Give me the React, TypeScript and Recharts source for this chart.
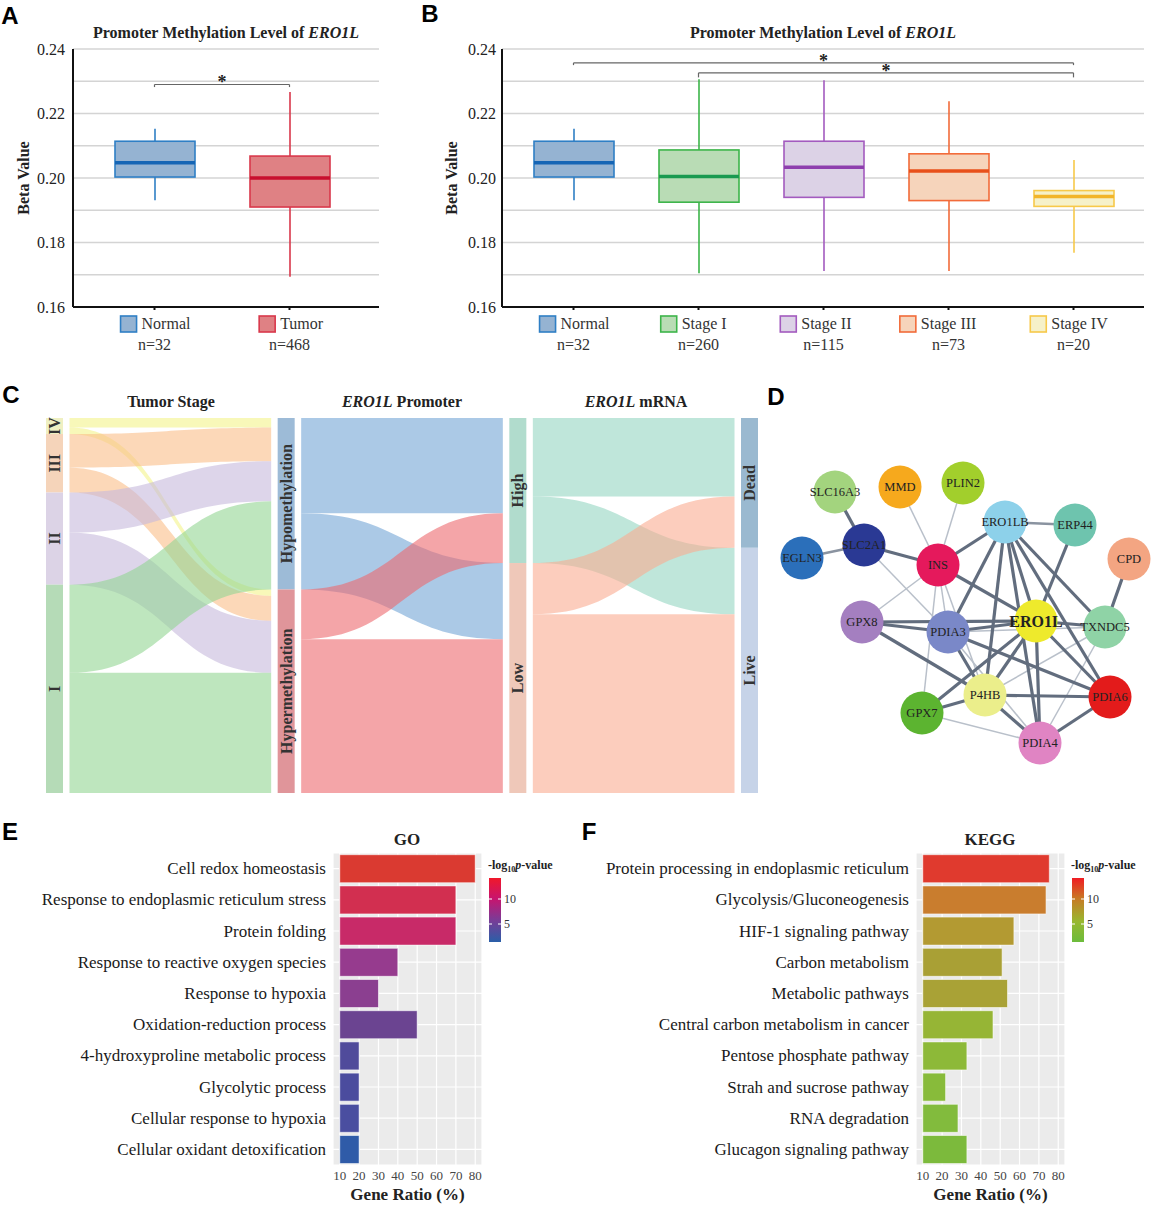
import React from "react";
import {
  BarChart,
  Bar,
  XAxis,
  YAxis,
  CartesianGrid,
  ReferenceLine,
  Cell,
  Legend,
  Sankey,
  ScatterChart,
  Scatter,
} from "recharts";

const SERIF = '"Liberation Serif", "Times New Roman", serif';
const SANS = '"Liberation Sans", Arial, sans-serif';

// ---------- A: normal vs tumor ----------
const tumorGroups = ["Normal", "Tumor"];
const tumorCounts = [32, 468];
const tumorMin = [0.1931, 0.1694];
const tumorQ1 = [0.2003, 0.191];
const tumorMedian = [0.2047, 0.2];
const tumorQ3 = [0.2114, 0.2068];
const tumorMax = [0.2153, 0.2267];

// ---------- B: by stage ----------
const stageGroups = ["Normal", "Stage I", "Stage II", "Stage III", "Stage IV"];
const stageCounts = [32, 260, 115, 73, 20];
const stageMin = [0.1931, 0.1705, 0.1712, 0.1712, 0.1768];
const stageQ1 = [0.2003, 0.1925, 0.194, 0.193, 0.1912];
const stageMedian = [0.2047, 0.2005, 0.2033, 0.2022, 0.1943];
const stageQ3 = [0.2114, 0.2087, 0.2114, 0.2075, 0.1961];
const stageMax = [0.2153, 0.2306, 0.2303, 0.2238, 0.2056];

const betaTicks = [0.16, 0.17, 0.18, 0.19, 0.2, 0.21, 0.22, 0.23, 0.24];
const betaLabels = [0.16, 0.18, 0.2, 0.22, 0.24];

const tumorBrackets = [{ from: "Normal", to: "Tumor", y: 0.229, foot: 0.2282 }];
const stageBrackets = [
  { from: "Normal", to: "Stage IV", y: 0.2357, foot: 0.235 },
  { from: "Stage I", to: "Stage IV", y: 0.2326, foot: 0.2312 },
];

// ---------- C: alluvial ----------
const stageLevels = ["IV", "III", "II", "I"];
const promoterLevels = ["Hypomethylation", "Hypermethylation"];
const mrnaLevels = ["High", "Low"];
const statusLevels = ["Dead", "Live"];
const stageToPromoter = [
  [12, 8],
  [42, 31],
  [50, 65],
  [110, 150],
];
const promoterToMrna = [
  [119, 95],
  [62, 192],
];
const mrnaToStatus = [
  [98, 83],
  [64, 223],
];

// ---------- D: PPI network ----------
const genes = ["SLC16A3", "MMD", "PLIN2", "ERO1LB", "ERP44", "CPD", "EGLN3", "SLC2A1", "INS", "GPX8", "PDIA3", "ERO1L", "TXNDC5", "P4HB", "PDIA6", "GPX7", "PDIA4"];
const geneX = [65, 130, 193, 235, 305, 359, 32, 94, 168, 92, 178, 266, 335, 215, 340, 152, 270];
const geneY = [52, 47, 43, 82, 85, 119, 118, 105, 125, 182, 192, 181, 187, 255, 257, 273, 303];
const strongLinks = [
  ["SLC16A3", "SLC2A1"], ["SLC2A1", "INS"], ["INS", "ERO1LB"], ["INS", "ERO1L"],
  ["ERO1LB", "PDIA3"], ["ERO1LB", "ERO1L"], ["ERO1LB", "TXNDC5"], ["ERO1LB", "PDIA6"],
  ["ERO1LB", "PDIA4"], ["ERO1LB", "P4HB"], ["ERP44", "ERO1L"], ["CPD", "TXNDC5"],
  ["GPX8", "PDIA3"], ["GPX8", "ERO1L"], ["GPX8", "P4HB"], ["PDIA3", "ERO1L"],
  ["PDIA3", "PDIA6"], ["PDIA3", "P4HB"], ["ERO1L", "TXNDC5"], ["ERO1L", "P4HB"],
  ["ERO1L", "GPX7"], ["ERO1L", "PDIA4"], ["ERO1L", "PDIA6"], ["P4HB", "PDIA6"],
  ["P4HB", "GPX7"], ["P4HB", "PDIA4"], ["PDIA6", "PDIA4"],
];
const mediumLinks = [["ERO1LB", "ERP44"], ["EGLN3", "SLC2A1"]];
const weakLinks = [
  ["SLC2A1", "PDIA3"], ["MMD", "INS"], ["PLIN2", "INS"], ["INS", "GPX8"], ["INS", "PDIA3"],
  ["INS", "GPX7"], ["INS", "P4HB"], ["PDIA3", "TXNDC5"], ["PDIA3", "PDIA4"],
  ["TXNDC5", "P4HB"], ["TXNDC5", "PDIA4"], ["GPX7", "PDIA4"],
];

// ---------- E / F: enrichment ----------
const goTerms = [
  "Cell redox homeostasis",
  "Response to endoplasmic reticulum stress",
  "Protein folding",
  "Response to reactive oxygen species",
  "Response to hypoxia",
  "Oxidation-reduction process",
  "4-hydroxyproline metabolic process",
  "Glycolytic process",
  "Cellular response to hypoxia",
  "Cellular oxidant detoxification",
];
const goRatio = [80, 70, 70, 40, 30, 50, 20, 20, 20, 20];
const keggTerms = [
  "Protein processing in endoplasmic reticulum",
  "Glycolysis/Gluconeogenesis",
  "HIF-1 signaling pathway",
  "Carbon metabolism",
  "Metabolic pathways",
  "Central carbon metabolism in cancer",
  "Pentose phosphate pathway",
  "Strah and sucrose pathway",
  "RNA degradation",
  "Glucagon signaling pathway",
];
const keggRatio = [75.4, 73.7, 57.1, 51.0, 53.8, 46.3, 32.8, 21.8, 28.2, 32.8];
const ratioTicks = [10, 20, 30, 40, 50, 60, 70, 80];
const ratioBase = 10;
const pvalTicks = [5, 10];

// ---------- styles ----------
const groupStyle: Record<string, { fill: string; stroke: string; mid: string }> = {
  Normal: { fill: "#95b3d2", stroke: "#2f7fc5", mid: "#1565b5" },
  Tumor: { fill: "#df8184", stroke: "#d9384b", mid: "#c8102e" },
  "Stage I": { fill: "#b9dcb5", stroke: "#3db54a", mid: "#1a9a50" },
  "Stage II": { fill: "#dcd2e6", stroke: "#a35bbf", mid: "#8e3fae" },
  "Stage III": { fill: "#f6d4bb", stroke: "#f26b3a", mid: "#e8501a" },
  "Stage IV": { fill: "#f6f1c9", stroke: "#f7c94a", mid: "#f2b52a" },
};
const nodeColor: Record<string, string> = {
  IV: "#eff0c2", III: "#f5d4ba", II: "#dcd3e6", I: "#b5dbb7",
  Hypomethylation: "#9dbbd7", Hypermethylation: "#e0959a",
  High: "#b1dccd", Low: "#efc8b9", Dead: "#9ab9d0", Live: "#c6d3e8",
};
const flowColor: Record<string, string> = {
  IV: "#f3f38a", III: "#fabe89", II: "#c6b9dc", I: "#93d593",
  Hypomethylation: "#73a5d5", Hypermethylation: "#ed696e",
  High: "#94d5c1", Low: "#faac91",
};
const geneColor = ["#a3d47e", "#f6a91d", "#a2cf2c", "#8dd1ea", "#6ec4ae", "#f3a582", "#2b6fba", "#2a3994", "#e5195c", "#a47fc0", "#7a88c8", "#eeea2c", "#8fd3a6", "#ebee8b", "#e31b1b", "#5cb430", "#e084c3"];
const goColors = ["#da3a31", "#d22f50", "#c82a68", "#963b8e", "#8b3f90", "#6b4491", "#504b9b", "#4b4c9e", "#4a4ea0", "#2f5ba8"];
const keggColors = ["#e03a2e", "#c97d2e", "#b39a32", "#a9a035", "#a9a236", "#96b535", "#8db938", "#88bb3a", "#82bb3d", "#7cba3c"];
const goStops: [string, string][] = [["0%", "#f0182a"], ["32%", "#c8146e"], ["64%", "#7e3a95"], ["100%", "#2a5fa8"]];
const keggStops: [string, string][] = [["0%", "#f01c24"], ["32%", "#c87a24"], ["68%", "#98b830"], ["100%", "#6cbc3c"]];

const toRows = (names: string[], n: number[], lo: number[], q1: number[], med: number[], q3: number[], hi: number[]) =>
  names.map((name, i) => ({ name, n: n[i], lo: lo[i], q1: q1[i], med: med[i], q3: q3[i], hi: hi[i] }));

const tumorRows = toRows(tumorGroups, tumorCounts, tumorMin, tumorQ1, tumorMedian, tumorQ3, tumorMax);
const stageRows = toRows(stageGroups, stageCounts, stageMin, stageQ1, stageMedian, stageQ3, stageMax);

const betaFormat = (v: number) => (betaLabels.some((l) => Math.abs(l - v) < 1e-9) ? v.toFixed(2) : "");

const approxWidth = (s: string, size: number) =>
  s.split("").reduce((w, c) => w + (c === " " ? 0.25 : /[A-Z]/.test(c) ? 0.68 : /[0-9=]/.test(c) ? 0.5 : 0.45), 0) * size;

// serif tick renderers
const BetaTick = ({ x, y, payload }: any) => (
  <text x={x} y={y} textAnchor="end" dominantBaseline="central" fontFamily={SERIF} fontSize={16} fill="#222">
    {betaFormat(payload.value)}
  </text>
);
const TermTick = ({ x, y, payload }: any) => (
  <text x={x} y={y} textAnchor="end" dominantBaseline="central" fontFamily={SERIF} fontSize={17} fill="#1a1a1a">
    {payload.value}
  </text>
);
const RatioTick = ({ x, y, payload }: any) => (
  <text x={x} y={y} dy="0.8em" textAnchor="middle" fontFamily={SERIF} fontSize={13} fill="#444">
    {payload.value}
  </text>
);

function BoxShape(props: any) {
  const { x, y, width, height, payload } = props;
  const st = groupStyle[payload.name];
  const top = Math.min(y, y + height);
  const bot = Math.max(y, y + height);
  const py = (v: number) => bot - ((v - payload.lo) / (payload.hi - payload.lo)) * (bot - top);
  const cx = x + width / 2;
  return (
    <g>
      <line x1={cx} x2={cx} y1={py(payload.hi)} y2={py(payload.lo)} stroke={st.stroke} strokeWidth={1.6} />
      <rect x={x} y={py(payload.q3)} width={width} height={py(payload.q1) - py(payload.q3)} fill={st.fill} stroke={st.stroke} strokeWidth={1.6} />
      <line x1={x} x2={x + width} y1={py(payload.med)} y2={py(payload.med)} stroke={st.mid} strokeWidth={3.5} />
    </g>
  );
}

function GroupTick(props: any) {
  const { x, y, payload, rows } = props;
  const row = rows.find((r: any) => r.name === payload.value);
  if (!row) return <g />;
  const st = groupStyle[row.name];
  const sw = 16;
  const gap = 5;
  const tw = approxWidth(row.name, 16);
  const left = x - (sw + gap + tw) / 2;
  return (
    <g>
      <rect x={left} y={y + 1} width={sw} height={sw} fill={st.fill} stroke={st.stroke} strokeWidth={1.6} />
      <text x={left + sw + gap} y={y + 14} fontFamily={SERIF} fontSize={16} fill="#333">
        {row.name}
      </text>
      <text x={x} y={y + 35} textAnchor="middle" fontFamily={SERIF} fontSize={16} fill="#333">
        n={row.n}
      </text>
    </g>
  );
}

function BoxPanel({ rows, width, axisWidth, rightGap, pad, brackets, tickGap }: any) {
  const frame = { stroke: "#111", strokeWidth: 2 };
  return (
    <BarChart width={width} height={360} data={rows} margin={{ top: 49, right: rightGap, bottom: 0, left: 0 }}>
      <CartesianGrid vertical={false} stroke="#d4d4d4" strokeWidth={1.5} />
      <XAxis
        dataKey="name"
        interval={0}
        padding={pad}
        height={53}
        axisLine={frame}
        tickLine={{ stroke: "#111", strokeWidth: 2 }}
        tickSize={3}
        tickMargin={5}
        tick={(p: any) => <GroupTick {...p} rows={rows} />}
      />
      <XAxis xAxisId="top" orientation="top" dataKey="name" padding={pad} height={0} tick={false} tickLine={false} axisLine={frame} />
      <YAxis
        type="number"
        domain={[0.16, 0.24]}
        ticks={betaTicks}
        interval={0}
        allowDataOverflow
        width={axisWidth}
        axisLine={frame}
        tickLine={false}
        tickSize={0}
        tickMargin={tickGap}
        tick={BetaTick}
      />
      <YAxis yAxisId="frame" orientation="right" type="number" domain={[0.16, 0.24]} width={0} tick={false} tickLine={false} axisLine={frame} />
      <Bar dataKey={(d: any) => [d.lo, d.hi]} barSize={80} isAnimationActive={false} shape={(p: any) => <BoxShape {...p} />} />
      {brackets.map((b: any, i: number) => [
        <ReferenceLine
          key={`b${i}`}
          segment={[{ x: b.from, y: b.y }, { x: b.to, y: b.y }]}
          stroke="#666"
          strokeWidth={1.2}
          ifOverflow="visible"
          label={{ value: "*", position: "top", offset: -4, fill: "#222", fontSize: 18, fontWeight: "bold", fontFamily: SERIF }}
        />,
        <ReferenceLine key={`l${i}`} segment={[{ x: b.from, y: b.y }, { x: b.from, y: b.foot }]} stroke="#666" strokeWidth={1.2} ifOverflow="visible" />,
        <ReferenceLine key={`r${i}`} segment={[{ x: b.to, y: b.y }, { x: b.to, y: b.foot }]} stroke="#666" strokeWidth={1.2} ifOverflow="visible" />,
      ])}
    </BarChart>
  );
}

// ---------- alluvial ----------
const allLevels = [...stageLevels, ...promoterLevels, ...mrnaLevels, ...statusLevels];
const stepLinks = (m: number[][], a: number, b: number) =>
  m.flatMap((row, i) => row.map((value, j) => ({ source: a + i, target: b + j, value })));
const alluvialData = {
  nodes: allLevels.map((name) => ({ name })),
  links: [
    ...stepLinks(stageToPromoter, 0, stageLevels.length),
    ...stepLinks(promoterToMrna, stageLevels.length, stageLevels.length + promoterLevels.length),
    ...stepLinks(mrnaToStatus, stageLevels.length + promoterLevels.length, stageLevels.length + promoterLevels.length + mrnaLevels.length),
  ],
};
const FLOW_GAP = 6.5;

function FlowBand(props: any) {
  const { sourceX, targetX, sourceY, targetY, linkWidth, payload } = props;
  const x0 = sourceX + FLOW_GAP;
  const x1 = targetX - FLOW_GAP;
  const mx = (x0 + x1) / 2;
  const h = linkWidth / 2;
  const src = payload && payload.source;
  const name = typeof src === "object" ? src.name : allLevels[src];
  const d = `M${x0},${sourceY - h} C${mx},${sourceY - h} ${mx},${targetY - h} ${x1},${targetY - h} L${x1},${targetY + h} C${mx},${targetY + h} ${mx},${sourceY + h} ${x0},${sourceY + h} Z`;
  return <path d={d} fill={flowColor[name]} fillOpacity={0.6} stroke="none" />;
}

function LevelNode(props: any) {
  const { x, y, width, height, payload } = props;
  const cx = x + width / 2;
  const cy = y + height / 2;
  return (
    <g>
      <rect x={x} y={y} width={width} height={height} fill={nodeColor[payload.name]} />
      <text
        x={cx}
        y={cy}
        transform={`rotate(-90 ${cx} ${cy})`}
        textAnchor="middle"
        dominantBaseline="central"
        fontFamily={SERIF}
        fontWeight="bold"
        fontSize={16}
        fill="#333"
      >
        {payload.name}
      </text>
    </g>
  );
}

// ---------- network ----------
const geneNodes = genes.map((name, i) => ({ name, x: geneX[i], y: geneY[i], color: geneColor[i] }));
const geneIndex: Record<string, any> = Object.fromEntries(geneNodes.map((g) => [g.name, g]));
const edgeList = [
  ...weakLinks.map(([a, b]) => ({ a, b, color: "#b9c0ca", w: 1.5 })),
  ...mediumLinks.map(([a, b]) => ({ a, b, color: "#8a93a0", w: 2.6 })),
  ...strongLinks.map(([a, b]) => ({ a, b, color: "#626d7e", w: 3.2 })),
];
const NoDot = () => <g />;

function GeneNode(props: any) {
  const { cx, cy, payload } = props;
  const main = payload.name === "ERO1L";
  return (
    <g>
      <circle cx={cx} cy={cy} r={21.5} fill={payload.color} />
      <text
        x={cx}
        y={cy}
        textAnchor="middle"
        dominantBaseline="central"
        fontFamily={SERIF}
        fontSize={main ? 16 : 12.5}
        fontWeight={main ? "bold" : "normal"}
        fill="#222"
      >
        {payload.name}
      </text>
    </g>
  );
}

// ---------- enrichment ----------
function ColorBar({ id, stops }: { id: string; stops: [string, string][] }) {
  const barTop = 21;
  const barH = 64;
  const vmax = 14.2;
  const px = 5;
  return (
    <svg width={80} height={92} style={{ overflow: "visible", display: "block" }}>
      <defs>
        <linearGradient id={id} x1="0" y1="0" x2="0" y2="1">
          {stops.map(([o, c]) => (
            <stop key={o} offset={o} stopColor={c} />
          ))}
        </linearGradient>
      </defs>
      <text x={0} y={12} fontFamily={SERIF} fontSize={12} fontWeight="bold" fill="#222">
        -log<tspan fontSize={8} dy={3}>10</tspan>
        <tspan dy={-3} fontStyle="italic">p</tspan>-value
      </text>
      <rect x={1} y={barTop} width={12} height={barH} fill={`url(#${id})`} />
      {pvalTicks.map((t) => {
        const ty = barTop + (vmax - t) * px;
        return (
          <g key={t}>
            <line x1={1} x2={4} y1={ty} y2={ty} stroke="#fff" strokeWidth={1} />
            <line x1={10} x2={13} y1={ty} y2={ty} stroke="#fff" strokeWidth={1} />
            <text x={16} y={ty} dominantBaseline="central" fontFamily={SERIF} fontSize={12} fill="#333">
              {t}
            </text>
          </g>
        );
      })}
    </svg>
  );
}

function EnrichPanel({ terms, ratios, colors, stops, id, width, axisWidth, rightGap, legendLeft }: any) {
  const rows = terms.map((term: string, i: number) => ({ term, ratio: ratios[i] }));
  return (
    <BarChart layout="vertical" width={width} height={385} data={rows} margin={{ top: 33, right: rightGap, bottom: 0, left: 0 }} barCategoryGap="5.5%">
      <CartesianGrid fill="#ebebeb" fillOpacity={1} stroke="#ffffff" strokeWidth={1.2} />
      <XAxis
        type="number"
        domain={[6.5, 83.5]}
        ticks={ratioTicks}
        interval={0}
        allowDataOverflow
        height={40}
        axisLine={false}
        tickLine={false}
        tickSize={0}
        tickMargin={5}
        tick={RatioTick}
        label={{ value: "Gene Ratio (%)", position: "insideBottom", offset: 5, fontFamily: SERIF, fontSize: 17, fontWeight: "bold", fill: "#222" }}
      />
      <YAxis
        type="category"
        dataKey="term"
        width={axisWidth}
        interval={0}
        axisLine={false}
        tickLine={false}
        tickSize={0}
        tickMargin={7}
        tick={TermTick}
      />
      <Bar dataKey={(d: any) => [ratioBase, d.ratio]} isAnimationActive={false} stroke="#ffffff" strokeOpacity={0.55} strokeWidth={1}>
        {rows.map((_: any, i: number) => (
          <Cell key={i} fill={colors[i]} />
        ))}
      </Bar>
      <Legend
        layout="vertical"
        align="center"
        verticalAlign="middle"
        wrapperStyle={{ left: legendLeft, top: 37, width: 90, height: 92 }}
        content={() => <ColorBar id={id} stops={stops} />}
      />
    </BarChart>
  );
}

const Txt = ({ x, y, children, style }: any) => (
  <div
    style={{
      position: "absolute",
      left: x,
      top: y,
      transform: "translate(-50%, -50%)",
      whiteSpace: "nowrap",
      fontFamily: SERIF,
      color: "#222",
      lineHeight: 1,
      ...style,
    }}
  >
    {children}
  </div>
);

const PanelLetter = ({ x, y, children }: any) => (
  <Txt x={x} y={y} style={{ fontFamily: SANS, fontWeight: "bold", fontSize: 24, color: "#000" }}>
    {children}
  </Txt>
);

const Abs = ({ left, top, children }: any) => <div style={{ position: "absolute", left, top }}>{children}</div>;

export default function App() {
  const bold16 = { fontWeight: "bold", fontSize: 16 };
  return (
    <div
      style={{
        position: "absolute",
        left: 0,
        top: 0,
        width: 1156,
        height: 1205,
        background: "#fff",
        overflow: "hidden",
        fontFamily: SERIF,
      }}
    >
      {/* A */}
      <Abs left={0} top={0}>
        <BoxPanel rows={tumorRows} width={400} axisWidth={73} rightGap={21} pad={{ left: 14, right: 22 }} brackets={tumorBrackets} tickGap={8} />
      </Abs>
      <PanelLetter x={10} y={16}>A</PanelLetter>
      <Txt x={226} y={33} style={bold16}>
        Promoter Methylation Level of <i>ERO1L</i>
      </Txt>
      <Txt x={24} y={178} style={{ ...bold16, transform: "translate(-50%, -50%) rotate(-90deg)" }}>
        Beta Value
      </Txt>

      {/* B */}
      <Abs left={400} top={0}>
        <BoxPanel rows={stageRows} width={756} axisWidth={102} rightGap={12} pad={{ left: 9, right: 8 }} brackets={stageBrackets} tickGap={6} />
      </Abs>
      <PanelLetter x={430} y={14}>B</PanelLetter>
      <Txt x={823} y={33} style={bold16}>
        Promoter Methylation Level of <i>ERO1L</i>
      </Txt>
      <Txt x={452} y={178} style={{ ...bold16, transform: "translate(-50%, -50%) rotate(-90deg)" }}>
        Beta Value
      </Txt>

      {/* C */}
      <Abs left={0} top={380}>
        <Sankey
          width={770}
          height={420}
          data={alluvialData}
          nodeWidth={17}
          nodePadding={0}
          iterations={0}
          sort={false}
          margin={{ top: 38, right: 12, bottom: 7, left: 46 }}
          node={(p: any) => <LevelNode {...p} />}
          link={(p: any) => <FlowBand {...p} />}
        />
      </Abs>
      <PanelLetter x={11} y={395}>C</PanelLetter>
      <Txt x={171} y={402} style={bold16}>Tumor Stage</Txt>
      <Txt x={402} y={402} style={bold16}>
        <i>ERO1L</i> Promoter
      </Txt>
      <Txt x={636} y={402} style={bold16}>
        <i>ERO1L</i> mRNA
      </Txt>

      {/* D */}
      <Abs left={770} top={440}>
        <ScatterChart width={386} height={340} margin={{ top: 0, right: 0, bottom: 0, left: 0 }}>
          <XAxis type="number" dataKey="x" domain={[0, 386]} hide allowDataOverflow />
          <YAxis type="number" dataKey="y" domain={[0, 340]} reversed hide allowDataOverflow />
          {edgeList.map((e, i) => (
            <Scatter
              key={`e${i}`}
              data={[geneIndex[e.a], geneIndex[e.b]]}
              fill={e.color}
              line={{ stroke: e.color, strokeWidth: e.w }}
              lineType="joint"
              shape={NoDot}
              isAnimationActive={false}
            />
          ))}
          <Scatter data={geneNodes} shape={(p: any) => <GeneNode {...p} />} isAnimationActive={false} />
        </ScatterChart>
      </Abs>
      <PanelLetter x={776} y={397}>D</PanelLetter>

      {/* E */}
      <Abs left={0} top={820}>
        <EnrichPanel terms={goTerms} ratios={goRatio} colors={goColors} stops={goStops} id="goGrad" width={580} axisWidth={333} rightGap={98} legendLeft={488} />
      </Abs>
      <PanelLetter x={10} y={832}>E</PanelLetter>
      <Txt x={407} y={839} style={{ fontWeight: "bold", fontSize: 17 }}>GO</Txt>

      {/* F */}
      <Abs left={580} top={820}>
        <EnrichPanel terms={keggTerms} ratios={keggRatio} colors={keggColors} stops={keggStops} id="keggGrad" width={576} axisWidth={336} rightGap={91} legendLeft={491} />
      </Abs>
      <PanelLetter x={589} y={832}>F</PanelLetter>
      <Txt x={990} y={839} style={{ fontWeight: "bold", fontSize: 17 }}>KEGG</Txt>
    </div>
  );
}
